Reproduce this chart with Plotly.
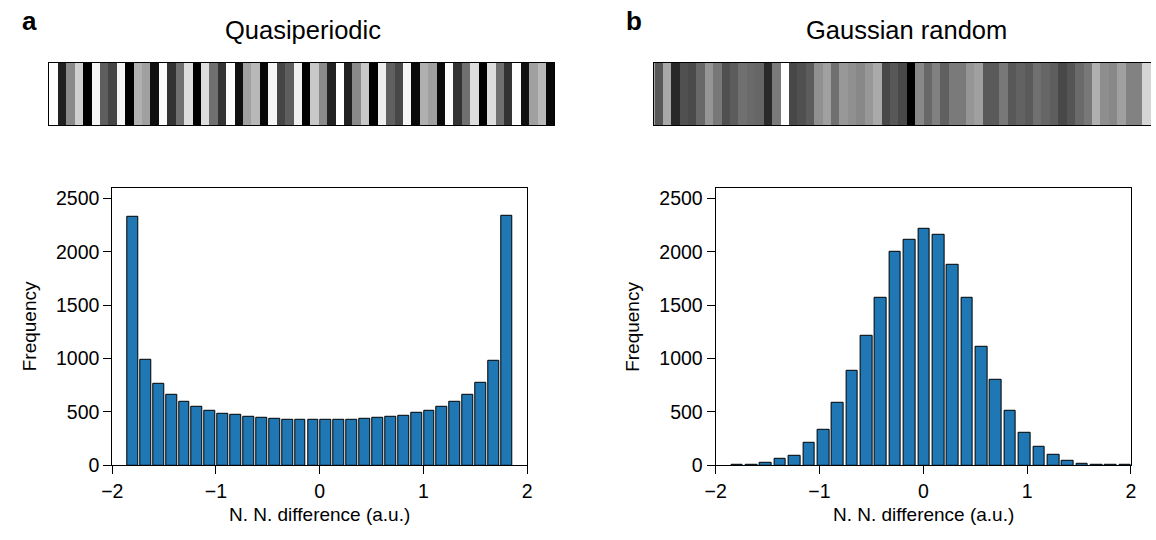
import numpy as np
import plotly.graph_objects as go

W, H = 1156, 540

# ---------------- data ----------------
# Grey levels (0 = black, 255 = white) of the stripe images
QP_STRIPES = [252, 32, 138, 207, 0, 245, 94, 69, 245, 0,
              176, 160, 16, 252, 51, 112, 221, 0, 221, 112,
              51, 252, 16, 160, 184, 8, 245, 69, 94, 240,
              0, 200, 138, 34, 255, 34, 138, 200, 0, 238,
              96, 72, 245, 10, 176, 160, 10, 252, 51, 112,
              221, 0, 221, 112, 51, 252, 16, 160, 184, 8]
GR_STRIPES = [88, 168, 40, 80, 74, 104, 149, 120, 80, 92,
              112, 106, 102, 42, 122, 255, 72, 80, 92, 144,
              160, 112, 152, 144, 136, 152, 170, 72, 88, 72,
              0, 136, 104, 128, 96, 122, 122, 149, 160, 90,
              90, 120, 88, 98, 90, 112, 102, 94, 72, 85,
              106, 120, 176, 142, 136, 160, 130, 130, 213, 64]

# Histogram counts (left to right)
QP_COUNTS = [2332, 990, 767, 663, 593, 547, 513, 486, 471, 452,
             443, 437, 431, 422, 428, 422, 428, 428, 434, 443,
             455, 468, 492, 513, 544, 596, 657, 770, 978, 2338]
GR_COUNTS = [2, 6, 21, 62, 93, 214, 335, 590, 886, 1215,
             1571, 2002, 2115, 2216, 2161, 1877, 1571, 1106, 804, 510,
             309, 171, 99, 40, 16, 7, 3, 2]

QP_RANGE = (-1.865, 1.865)
GR_RANGE = (-1.862, 2.014)

X_TICKS = [-2, -1, 0, 1, 2]
Y_TICKS = [0, 500, 1000, 1500, 2000, 2500]

TITLES = ["Quasiperiodic", "Gaussian random"]
PANEL_LABELS = ["a", "b"]
X_LABEL = "N. N. difference (a.u.)"
Y_LABEL = "Frequency"

# ---------------- helpers ----------------
def px_x(p):
    return p / W

def px_y(p):
    return 1 - p / H

def bins(counts, rng):
    edges = np.linspace(rng[0], rng[1], len(counts) + 1)
    centers = (edges[:-1] + edges[1:]) / 2
    return centers, edges[1] - edges[0]

FONT = "Liberation Sans, Arial, Helvetica, sans-serif"
BLUE = "#1f77b4"

fig = go.Figure()

for i, (counts, rng, rw) in enumerate([(QP_COUNTS, QP_RANGE, 0.84), (GR_COUNTS, GR_RANGE, 0.81)]):
    c, bw = bins(counts, rng)
    ax = "" if i == 0 else "2"
    fig.add_trace(go.Bar(
        x=c, y=counts, width=bw * rw,
        marker=dict(color=BLUE, line=dict(color="black", width=1)),
        xaxis="x" + ax, yaxis="y" + ax, showlegend=False,
    ))

for i, stripes in enumerate([QP_STRIPES, GR_STRIPES]):
    ax = str(3 + i)
    fig.add_trace(go.Heatmap(
        z=[stripes], x=list(range(len(stripes))), y=[0],
        colorscale=[[0, "black"], [1, "white"]], zmin=0, zmax=255,
        showscale=False, xaxis="x" + ax, yaxis="y" + ax, hoverinfo="skip",
    ))

# geometry (pixels)
HA = (102.7, 523.3)
HB = (714.5, 1135.7)
HY = (191.7, 475.0)
SA = (39.0, 551.0)
SB_LEFT = 652.3
SY = (64.3, 127.7)
STRIPE_W = (SA[1] - SA[0]) / len(QP_STRIPES)

tickfont = dict(family=FONT, size=19.5, color="black")

def hist_x(dom):
    return dict(domain=[px_x(dom[0]), px_x(dom[1])], range=[-2, 2],
                tickmode="array", tickvals=X_TICKS, ticks="outside", ticklen=8,
                tickwidth=1, tickcolor="black", showline=True, linecolor="black",
                linewidth=1, mirror=True, showgrid=False, zeroline=False,
                tickfont=tickfont)

def hist_y(anchor):
    return dict(domain=[px_y(HY[1]), px_y(HY[0])], range=[0, 2600],
                tickmode="array", tickvals=Y_TICKS, ticks="outside", ticklen=8,
                tickwidth=1, tickcolor="black", showline=True, linecolor="black",
                linewidth=1, mirror=True, showgrid=False, zeroline=False,
                tickfont=tickfont, anchor=anchor)

gb_right = -0.5 + (W - SB_LEFT) / STRIPE_W

fig.update_layout(
    width=W, height=H,
    margin=dict(l=0, r=0, t=0, b=0),
    paper_bgcolor="white", plot_bgcolor="white",
    font=dict(family=FONT, color="black"),
    bargap=0,
    xaxis=dict(hist_x(HA), anchor="y"),
    yaxis=hist_y("x"),
    xaxis2=dict(hist_x(HB), anchor="y2"),
    yaxis2=hist_y("x2"),
    xaxis3=dict(domain=[px_x(SA[0]), px_x(SA[1])], range=[-0.5, len(QP_STRIPES) - 0.5],
                showticklabels=False, ticks="", showgrid=False, zeroline=False,
                showline=True, linecolor="black", linewidth=1.2, mirror=True, anchor="y3"),
    yaxis3=dict(domain=[px_y(SY[1]), px_y(SY[0])], range=[-0.5, 0.5],
                showticklabels=False, ticks="", showgrid=False, zeroline=False,
                showline=True, linecolor="black", linewidth=1.2, mirror=True, anchor="x3"),
    xaxis4=dict(domain=[px_x(SB_LEFT), 1.0], range=[-0.5, gb_right],
                showticklabels=False, ticks="", showgrid=False, zeroline=False,
                showline=True, linecolor="black", linewidth=1.2, mirror=True, anchor="y4"),
    yaxis4=dict(domain=[px_y(SY[1]), px_y(SY[0])], range=[-0.5, 0.5],
                showticklabels=False, ticks="", showgrid=False, zeroline=False,
                showline=True, linecolor="black", linewidth=1.2, mirror=False, anchor="x4"),
)

ann = []
# panel letters
for lab, x in zip(PANEL_LABELS, [9, 622]):
    ann.append(dict(text="<b>%s</b>" % lab, x=px_x(x), y=px_y(21), xref="paper", yref="paper",
                    xanchor="left", yanchor="middle", showarrow=False,
                    font=dict(family=FONT, size=26, color="black")))
# titles
for t, x in zip(TITLES, [296.5, 908.5]):
    ann.append(dict(text=t, x=px_x(x), y=px_y(30.5), xref="paper", yref="paper",
                    xanchor="center", yanchor="middle", showarrow=False,
                    font=dict(family=FONT, size=25.5, color="black")))
# axis titles
for cx in [(HA[0] + HA[1]) / 2, (HB[0] + HB[1]) / 2]:
    ann.append(dict(text=X_LABEL, x=px_x(cx), y=px_y(525), xref="paper", yref="paper",
                    xanchor="center", yanchor="middle", showarrow=False,
                    font=dict(family=FONT, size=19, color="black")))
for x in [19, 630]:
    ann.append(dict(text=Y_LABEL, x=px_x(x), y=px_y((HY[0] + HY[1]) / 2), xref="paper", yref="paper",
                    xanchor="center", yanchor="middle", showarrow=False, textangle=-90,
                    font=dict(family=FONT, size=19, color="black")))
fig.update_layout(annotations=ann)

fig.write_html("out.html")
